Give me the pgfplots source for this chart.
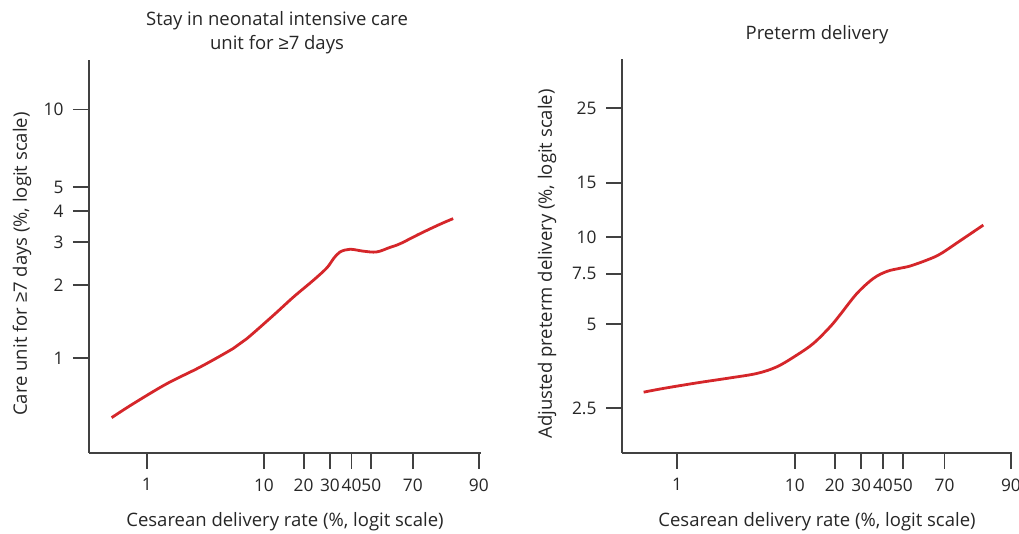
\documentclass[border=0pt]{standalone}
\usepackage{fontspec}
\setmainfont{Open Sans}
\newfontfamily\symf{Liberation Sans}
\usepackage{pgfplots}
\pgfplotsset{compat=1.18}
\definecolor{curve}{RGB}{213,38,42}
\definecolor{axgray}{RGB}{65,65,65}
\newcommand{\fs}{\fontsize{18.5pt}{24pt}\selectfont}
\newcommand{\ft}{\fontsize{17.3pt}{20pt}\selectfont}
\pgfplotsset{
  logitax/.style={
    scale only axis,
    axis lines=left,
    axis line style={-, line width=1.8pt, axgray},
    tick align=outside,
    major tick length=16pt,
    tick style={line width=1.8pt, axgray},
    x coord trafo/.code={\pgfmathparse{ln(##1)-ln(100-##1)}},
    y coord trafo/.code={\pgfmathparse{ln(##1)-ln(100-##1)}},
    xtick={1,10,20,30,40,50,70,90},
    xticklabels={1,10,20,30,40,50,70,90},
    every tick label/.append style={font=\ft, text=black!85},
    xticklabel style={yshift=-6pt},
    yticklabel style={xshift=-6pt},
    label style={font=\fs, text=black!85},
    title style={font=\fs, text=black!85, align=center},
    xlabel style={at={(axis description cs:0.5,0)}, anchor=center, yshift=-69pt},
    clip=false,
    anchor=south west,
  }
}
\begin{document}
\begin{tikzpicture}
\path[use as bounding box] (0pt,0pt) rectangle (1019pt,534pt);
\begin{axis}[logitax,
  at={(89pt,81pt)}, width=392pt, height=393pt,
  xmin=0.309, xmax=90.4, ymin=0.404, ymax=15.2,
  ytick={1,2,3,4,5,10}, yticklabels={1,2,3,4,5,10},
  title={Stay in neonatal intensive care\\unit for {\symf ≥}7 days},
  title style={at={(axis description cs:0.5,1)}, anchor=south, xshift=-8pt, yshift=-3pt},
  xlabel={Cesarean delivery rate (\%, logit scale)},
  ylabel={Care unit for {\symf ≥}7 days (\%, logit scale)},
  ylabel style={at={(axis description cs:-0.171,0.481)}, anchor=center, rotate=0},
]
\addplot[curve, line width=2.8pt, smooth, tension=0.55] coordinates {
(0.49,0.567) (0.76,0.648) (1.50,0.785) (2.92,0.92) (5.61,1.10) (7.25,1.206)
(11.87,1.506) (16.85,1.79) (23.4,2.10) (28.7,2.36) (31.5,2.57) (34.5,2.74)
(39.3,2.81) (45.9,2.76) (52.7,2.74) (59.4,2.86) (64.3,2.96) (73.0,3.25) (80.3,3.55) (84.2,3.74)
};
\end{axis}
\begin{axis}[logitax,
  at={(622pt,81pt)}, width=390pt, height=394pt,
  xmin=0.329, xmax=90.2, ymin=1.72, ymax=33.7,
  ytick={2.5,5,7.5,10,15,25}, yticklabels={2.5,5,7.5,10,15,25},
  title={Preterm delivery},
  title style={at={(axis description cs:0.5,1)}, anchor=south, yshift=6pt},
  xlabel={Cesarean delivery rate (\%, logit scale)},
  ylabel={Adjusted preterm delivery (\%, logit scale)},
  ylabel style={at={(axis description cs:-0.192,0.48)}, anchor=center, rotate=0},
]
\addplot[curve, line width=2.8pt, smooth, tension=0.55] coordinates {
(0.51,2.86) (0.76,2.95) (1.50,3.09) (2.90,3.22) (4.89,3.34) (7.17,3.53)
(10.39,3.89) (13.98,4.28) (18.57,4.90) (21.8,5.40) (28.2,6.41) (35.5,7.23)
(42.0,7.64) (48.6,7.83) (53.7,7.97) (62.0,8.35) (68.1,8.75) (76.2,9.70) (83.7,10.94)
};
\end{axis}
\end{tikzpicture}
\end{document}
